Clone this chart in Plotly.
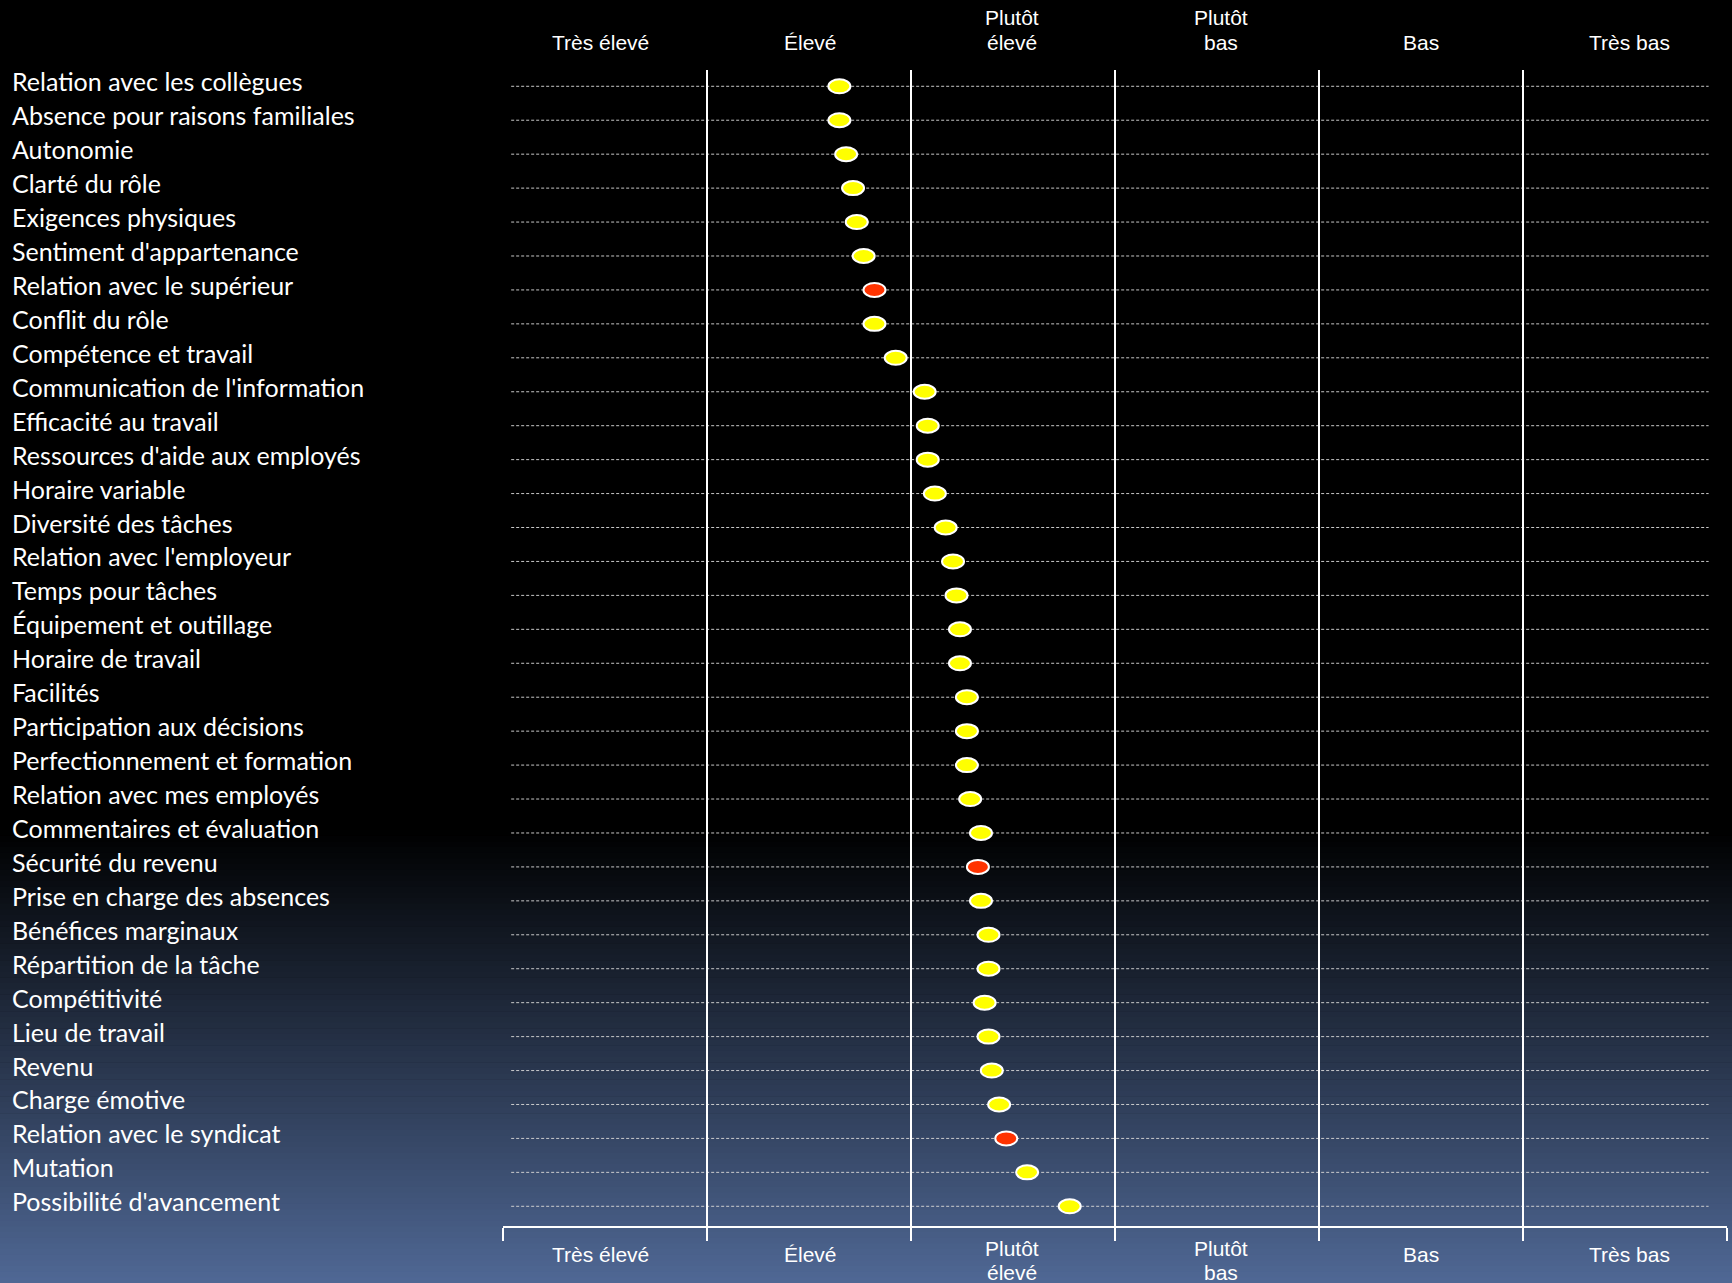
import plotly.graph_objects as go

# ---- data ----
items = [
    "Relation avec les collègues", "Absence pour raisons familiales", "Autonomie",
    "Clarté du rôle", "Exigences physiques", "Sentiment d'appartenance",
    "Relation avec le supérieur", "Conflit du rôle", "Compétence et travail",
    "Communication de l'information", "Efficacité au travail",
    "Ressources d'aide aux employés", "Horaire variable", "Diversité des tâches",
    "Relation avec l'employeur", "Temps pour tâches", "Équipement et outillage",
    "Horaire de travail", "Facilités", "Participation aux décisions",
    "Perfectionnement et formation", "Relation avec mes employés",
    "Commentaires et évaluation", "Sécurité du revenu", "Prise en charge des absences",
    "Bénéfices marginaux", "Répartition de la tâche", "Compétitivité",
    "Lieu de travail", "Revenu", "Charge émotive", "Relation avec le syndicat",
    "Mutation", "Possibilité d'avancement",
]
scores = [
    1.649, 1.649, 1.682, 1.716, 1.734, 1.768, 1.821, 1.821, 1.925,
    2.067, 2.082, 2.082, 2.117, 2.170, 2.206, 2.223, 2.240, 2.240,
    2.274, 2.274, 2.274, 2.290, 2.343, 2.328, 2.343, 2.380, 2.380,
    2.361, 2.380, 2.396, 2.432, 2.467, 2.569, 2.778,
]
highlight = [
    False, False, False, False, False, False, True, False, False,
    False, False, False, False, False, False, False, False, False,
    False, False, False, False, False, True, False, False, False,
    False, False, False, False, True, False, False,
]
levels = ["Très élevé", "Élevé", "Plutôt<br>élevé", "Plutôt<br>bas", "Bas", "Très bas"]

# ---- layout geometry ----
W, H = 1732, 1283
ML, MR, MT, MB = 503, 5, 70, 57
plot_h = H - MT - MB
n = len(items)
rows = list(range(n))
label_nudge = [-4, 1, -1, 4, 0, 4]   # small horizontal offsets (px) of the level labels
LINE_GAP = 24.3

def py_to_paper(py):
    return (H - MB - py) / plot_h

shapes = []

# background gradient (black -> slate blue)
g_start, g_end = 830, H
top_col = (0, 0, 0)
bot_col = (79, 104, 149)
nstrips = 80
for i in range(nstrips):
    a = g_start + (g_end - g_start) * i / nstrips
    b = g_start + (g_end - g_start) * (i + 1) / nstrips
    f = (i + 0.5) / nstrips
    c = tuple(int(round(top_col[k] + (bot_col[k] - top_col[k]) * f)) for k in range(3))
    shapes.append(dict(type="rect", xref="paper", yref="paper",
                       x0=-0.5, x1=1.1, y0=py_to_paper(b + 0.6), y1=py_to_paper(a),
                       fillcolor="rgb(%d,%d,%d)" % c, line=dict(width=0), layer="below"))

# dotted row guides
for r in rows:
    shapes.append(dict(type="line", xref="x", yref="y", x0=0.04, x1=5.91, y0=r, y1=r,
                       line=dict(color="rgba(210,210,210,0.95)", width=1, dash="3px,2px"),
                       layer="below"))

# vertical separators between levels
for k in range(1, len(levels)):
    shapes.append(dict(type="line", xref="x", yref="paper", x0=k, x1=k, y0=0, y1=1,
                       line=dict(color="white", width=2), layer="above"))

# ellipse markers
for r, v, hi in zip(rows, scores, highlight):
    shapes.append(dict(type="circle", xref="x", yref="y",
                       xsizemode="pixel", ysizemode="pixel",
                       xanchor=v, yanchor=r, x0=-11, x1=11, y0=-7, y1=7,
                       fillcolor="#FF3300" if hi else "#FFFF00",
                       line=dict(color="white", width=2), layer="above"))

annotations = []
# row labels
for r, name in zip(rows, items):
    annotations.append(dict(text=name, xref="paper", yref="y",
                            x=(10 - ML) / (W - ML - MR), y=r, yshift=5,
                            xanchor="left", yanchor="middle", showarrow=False,
                            font=dict(family="Lato, Noto Sans, sans-serif", size=25, color="white")))

# header and footer level labels (one annotation per text line)
hfont = dict(family="Liberation Sans, Arial, sans-serif", size=21, color="white")
for k, lab in enumerate(levels):
    lines = lab.split("<br>")
    m = len(lines)
    for j, line in enumerate(lines):
        # header: last line centred at y=42 px
        hy = 42 - (m - 1 - j) * LINE_GAP
        # footer: single line at 1254 px, two lines starting at 1248 px
        fy = (1254 if m == 1 else 1248) + j * LINE_GAP
        for py in (hy, fy):
            annotations.append(dict(text=line, xref="x", yref="paper", x=k + 0.5,
                                    y=py_to_paper(py), xshift=label_nudge[k] * 1.1,
                                    xanchor="center", yanchor="middle", showarrow=False,
                                    font=hfont))

fig = go.Figure()
fig.add_trace(go.Scatter(
    x=scores, y=rows, mode="markers", text=items,
    marker=dict(size=14, color="rgba(0,0,0,0)"),
    hovertemplate="%{text}: %{x:.2f}<extra></extra>", showlegend=False,
))

fig.update_layout(
    width=W, height=H,
    margin=dict(l=ML, r=MR, t=MT, b=MB),
    paper_bgcolor="black", plot_bgcolor="rgba(0,0,0,0)",
    shapes=shapes, annotations=annotations,
    showlegend=False,
    xaxis=dict(range=[0, len(levels)], showgrid=False, zeroline=False,
               showline=True, linecolor="white", linewidth=2,
               tickvals=list(range(len(levels) + 1)), showticklabels=False,
               ticks="outside", ticklen=13, tickwidth=2, tickcolor="white"),
    yaxis=dict(range=[33.58, -0.48], showgrid=False, zeroline=False,
               showline=False, showticklabels=False, ticks=""),
)

fig.write_html("out.html")
